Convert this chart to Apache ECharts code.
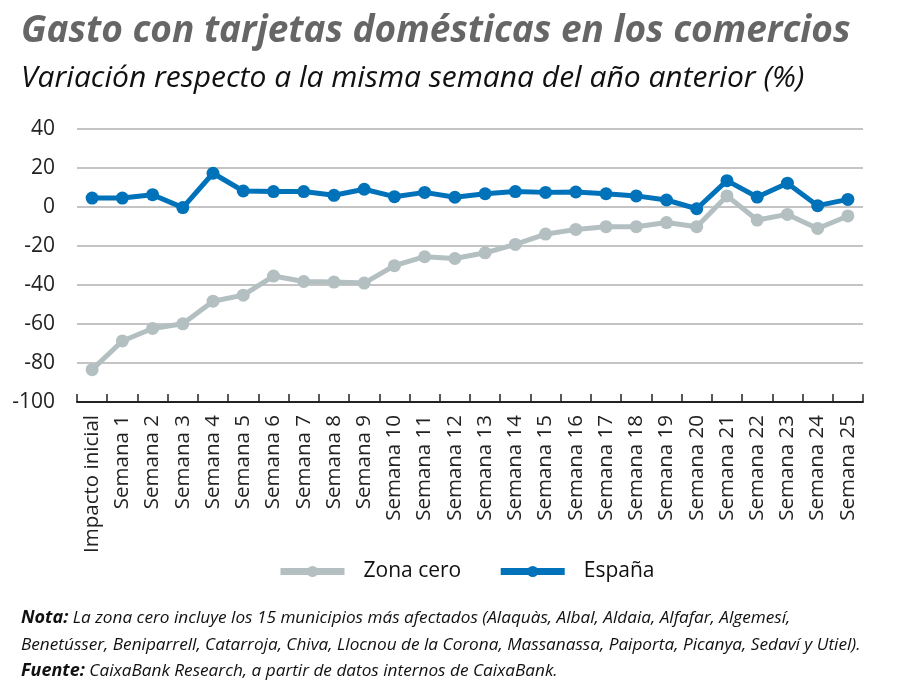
<!DOCTYPE html>
<html><head><meta charset="utf-8">
<script src="https://cdn.jsdelivr.net/npm/echarts@6/dist/echarts.min.js"></script>
<style>html,body{margin:0;padding:0;background:#fff}#c{width:900px;height:689px}</style>
</head><body><div id="c"></div>
<script>
const categories = ['Impacto inicial','Semana 1','Semana 2','Semana 3','Semana 4','Semana 5','Semana 6','Semana 7','Semana 8','Semana 9','Semana 10','Semana 11','Semana 12','Semana 13','Semana 14','Semana 15','Semana 16','Semana 17','Semana 18','Semana 19','Semana 20','Semana 21','Semana 22','Semana 23','Semana 24','Semana 25'];
const zonaCero = [-83.4,-68.7,-62.3,-59.9,-48.3,-45.2,-35.4,-38.2,-38.5,-39.0,-30.1,-25.5,-26.4,-23.5,-19.2,-13.9,-11.5,-10.1,-10.1,-8.0,-10.1,5.7,-6.7,-3.8,-11.0,-4.6];
const espana = [4.6,4.6,6.3,-0.3,17.3,8.2,7.9,7.9,6.0,9.1,5.3,7.5,5.0,6.8,7.9,7.5,7.7,6.8,5.7,3.6,-0.9,13.5,5.1,12.2,0.7,3.9];
const yTicks = {min:-100, max:40, interval:20};

const ff = '"Open Sans","Noto Sans",sans-serif';
const chart = echarts.init(document.getElementById('c'));
chart.setOption({
  animation:false,
  title:[
    {text:'Gasto con tarjetas domésticas en los comercios', left:16, top:8,
     textStyle:{fontFamily:ff, fontStyle:'italic', fontWeight:'bold', fontSize:37, color:'#666'}},
    {text:'Variación respecto a la misma semana del año anterior (%)', left:16, top:58,
     textStyle:{fontFamily:ff, fontStyle:'italic', fontWeight:'normal', fontSize:30, color:'#111'}},
    {text:'{b|Nota:} La zona cero incluye los 15 municipios más afectados (Alaquàs, Albal, Aldaia, Alfafar, Algemesí,\nBenetússer, Beniparrell, Catarroja, Chiva, Llocnou de la Corona, Massanassa, Paiporta, Picanya, Sedaví y Utiel).\n{b|Fuente:} CaixaBank Research, a partir de datos internos de CaixaBank.',
     left:16, top:600,
     textStyle:{fontFamily:ff, fontStyle:'italic', fontWeight:'normal', fontSize:17.2, color:'#111', lineHeight:26.5,
       rich:{b:{fontFamily:ff, fontStyle:'italic', fontWeight:'bold', fontSize:18, color:'#111', lineHeight:26.5}}}}
  ],
  legend:{
    bottom:102, left:272, itemGap:36, itemWidth:64, itemHeight:14,
    textStyle:{fontFamily:ff, fontSize:21, color:'#111', padding:[0,0,0,14]},
    lineStyle:{width:7},
    data:['Zona cero','España']
  },
  grid:{left:77, right:37, top:129, bottom:287, containLabel:false},
  xAxis:{
    type:'category', data:categories, boundaryGap:true,
    axisLine:{onZero:false, lineStyle:{color:'#222', width:2}},
    axisTick:{show:true, length:8, lineStyle:{color:'#222', width:1.5}, inside:true},
    axisLabel:{rotate:90, fontFamily:ff, fontSize:20.5, color:'#222', margin:13, interval:0}
  },
  yAxis:{
    type:'value', min:yTicks.min, max:yTicks.max, interval:yTicks.interval,
    axisLine:{show:false}, axisTick:{show:false},
    splitLine:{lineStyle:{color:'#b0b0b0', width:1.5}},
    axisLabel:{fontFamily:ff, fontSize:21, color:'#222', margin:22}
  },
  series:[
    {name:'Zona cero', type:'line', data:zonaCero, symbol:'circle', symbolSize:13,
     lineStyle:{width:5, color:'#b3bfc1'}, itemStyle:{color:'#b3bfc1'}},
    {name:'España', type:'line', data:espana, symbol:'circle', symbolSize:13,
     lineStyle:{width:5, color:'#0072ba'}, itemStyle:{color:'#0072ba'}}
  ]
});
</script></body></html>
